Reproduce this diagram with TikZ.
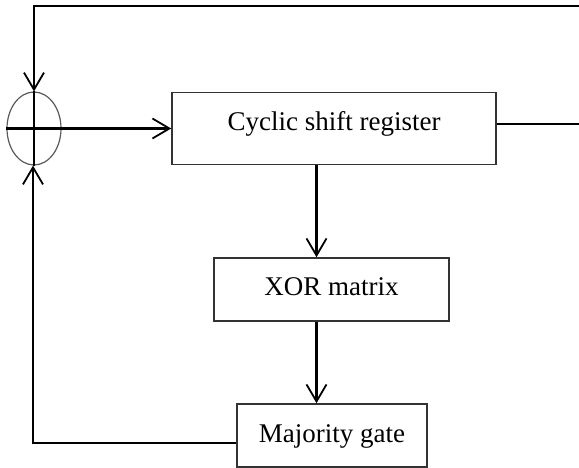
\documentclass[tikz,border=0pt]{standalone}
\usepackage{fontspec}
\setmainfont{Liberation Serif}
\usetikzlibrary{arrows.meta,shapes.geometric}
\tikzset{
  blk/.style={draw=black!80, line width=1.6pt, rectangle, inner sep=0pt, font=\fontsize{27}{30}\selectfont, text height=19pt},
  conn/.style={line width=2.2pt, black},
  arr/.style={conn, -{Straight Barb[length=17pt,width=20pt,line width=1.8pt]}},
  xorgate/.style={draw=black!65, line width=1.2pt, ellipse, minimum width=54pt, minimum height=73pt, inner sep=0pt}
}
\begin{document}
\begin{tikzpicture}[x=1pt,y=-1pt]
\useasboundingbox (0,0) rectangle (579,468);
% nodes
\node[xorgate] (sum) at (34,128.5) {};
\node[blk, minimum width=324pt, minimum height=72pt, text depth=14pt] (reg) at (334,128.5) {Cyclic shift register};
\node[blk, minimum width=235pt, minimum height=63pt, text depth=7pt] (xor) at (331.5,289.5) {XOR matrix};
\node[blk, minimum width=190pt, minimum height=63pt, text depth=6pt] (maj) at (332,435.5) {Majority gate};
% free ends and column
\coordinate (tr) at (579,6);
\coordinate (ro) at (579,124);
\coordinate (colx) at (316.5,0);
\coordinate (fb) at (33,443);
% cross inside the ellipse
\draw[conn] (sum.west) -- (sum.east);
\draw[conn] (sum.north) -- (sum.south);
% connectors
\draw[arr] (tr) -| (sum.north);
\draw[arr] (sum.east) -- (reg.west);
\draw[conn] (reg.east |- ro) -- (ro);
\draw[arr] (reg.south -| colx) -- (xor.north -| colx);
\draw[arr] (xor.south -| colx) -- (maj.north -| colx);
\draw[arr] (maj.west |- fb) -- (fb) -- (fb |- sum.south);
\end{tikzpicture}
\end{document}
